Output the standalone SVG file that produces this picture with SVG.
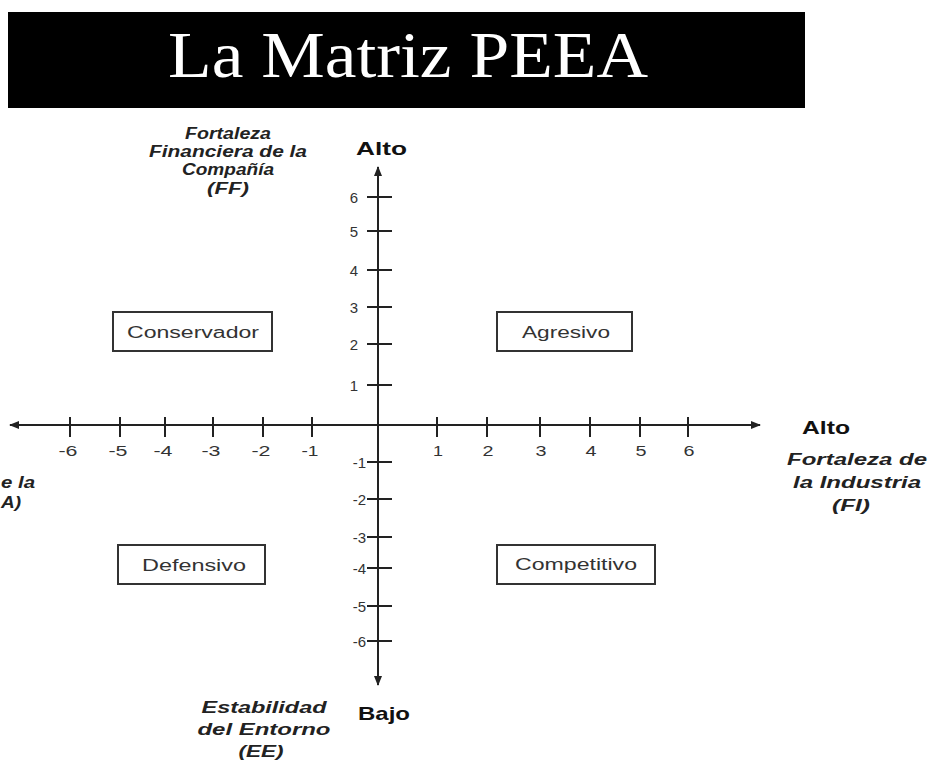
<svg xmlns="http://www.w3.org/2000/svg" width="931" height="760" viewBox="0 0 931 760">
<style>
.ax{stroke:#222;stroke-width:2;fill:none}
.tk{stroke:#222;stroke-width:2}
.num{font-family:"Liberation Sans",Arial,sans-serif;font-size:15px;fill:#333}
.lbl{font-family:"Liberation Sans",Arial,sans-serif;font-size:16px;font-weight:bold;font-style:italic;fill:#222;text-anchor:middle}
.hd{font-family:"Liberation Sans",Arial,sans-serif;font-size:19px;font-weight:bold;fill:#111}
.box{fill:#fff;stroke:#333;stroke-width:2}
.bt{font-family:"Liberation Sans",Arial,sans-serif;font-size:16px;fill:#333;text-anchor:middle}
</style>
<defs>
<marker id="ah" viewBox="0 0 10 10" refX="9" refY="5" markerWidth="5" markerHeight="5" orient="auto-start-reverse">
<path d="M0,1 L10,5 L0,9 z" fill="#222"/>
</marker>
</defs>
<rect width="931" height="760" fill="#fff"/>
<g id="title">
<rect x="8" y="12" width="797" height="96" fill="#000"/>
<text x="408" y="77" font-family="Liberation Serif,'Times New Roman',serif" font-size="66" fill="#fff" text-anchor="middle" textLength="480" lengthAdjust="spacingAndGlyphs">La Matriz PEEA</text>
</g>
<g id="connectors">
<line class="ax" x1="10" y1="425" x2="760" y2="425" marker-start="url(#ah)" marker-end="url(#ah)"/>
<line class="ax" x1="378" y1="167" x2="378" y2="685" marker-start="url(#ah)" marker-end="url(#ah)"/>
<g class="tk">
<line x1="70" y1="417" x2="70" y2="437"/>
<line x1="120" y1="417" x2="120" y2="437"/>
<line x1="165" y1="417" x2="165" y2="437"/>
<line x1="213" y1="417" x2="213" y2="437"/>
<line x1="263" y1="417" x2="263" y2="437"/>
<line x1="312" y1="417" x2="312" y2="437"/>
<line x1="437" y1="417" x2="437" y2="437"/>
<line x1="487" y1="417" x2="487" y2="437"/>
<line x1="540" y1="417" x2="540" y2="437"/>
<line x1="590" y1="417" x2="590" y2="437"/>
<line x1="640" y1="417" x2="640" y2="437"/>
<line x1="688" y1="417" x2="688" y2="437"/>
<line x1="367" y1="197" x2="392" y2="197"/>
<line x1="367" y1="231" x2="392" y2="231"/>
<line x1="367" y1="270" x2="392" y2="270"/>
<line x1="367" y1="307" x2="392" y2="307"/>
<line x1="367" y1="344" x2="392" y2="344"/>
<line x1="367" y1="385" x2="392" y2="385"/>
<line x1="367" y1="462" x2="392" y2="462"/>
<line x1="367" y1="499" x2="392" y2="499"/>
<line x1="367" y1="537" x2="392" y2="537"/>
<line x1="367" y1="568" x2="392" y2="568"/>
<line x1="367" y1="606" x2="392" y2="606"/>
<line x1="367" y1="641" x2="392" y2="641"/>
</g>
</g>
<g id="xlabels" class="num" text-anchor="middle">
<text x="68" y="456" textLength="19" lengthAdjust="spacingAndGlyphs">-6</text>
<text x="118" y="456" textLength="19" lengthAdjust="spacingAndGlyphs">-5</text>
<text x="163" y="456" textLength="19" lengthAdjust="spacingAndGlyphs">-4</text>
<text x="211" y="456" textLength="19" lengthAdjust="spacingAndGlyphs">-3</text>
<text x="261" y="456" textLength="19" lengthAdjust="spacingAndGlyphs">-2</text>
<text x="310" y="456" textLength="17" lengthAdjust="spacingAndGlyphs">-1</text>
<text x="438" y="456" textLength="10" lengthAdjust="spacingAndGlyphs">1</text>
<text x="488" y="456" textLength="11" lengthAdjust="spacingAndGlyphs">2</text>
<text x="541" y="456" textLength="11" lengthAdjust="spacingAndGlyphs">3</text>
<text x="591" y="456" textLength="11" lengthAdjust="spacingAndGlyphs">4</text>
<text x="641" y="456" textLength="11" lengthAdjust="spacingAndGlyphs">5</text>
<text x="689" y="456" textLength="11" lengthAdjust="spacingAndGlyphs">6</text>
</g>
<g id="ylabels" class="num" text-anchor="end">
<text x="358" y="203">6</text>
<text x="358" y="237">5</text>
<text x="358" y="276">4</text>
<text x="358" y="313">3</text>
<text x="358" y="350">2</text>
<text x="358" y="391">1</text>
<text x="366" y="468">-1</text>
<text x="366" y="505">-2</text>
<text x="366" y="543">-3</text>
<text x="366" y="574">-4</text>
<text x="366" y="612">-5</text>
<text x="366" y="647">-6</text>
</g>
<g id="alto-top"><text class="hd" x="356" y="155" textLength="51" lengthAdjust="spacingAndGlyphs">Alto</text></g>
<g id="alto-right"><text class="hd" x="802" y="434" textLength="48" lengthAdjust="spacingAndGlyphs">Alto</text></g>
<g id="bajo"><text class="hd" x="358" y="720" textLength="52" lengthAdjust="spacingAndGlyphs">Bajo</text></g>
<g id="ff-label">
<text class="lbl" x="228" y="139" textLength="86" lengthAdjust="spacingAndGlyphs">Fortaleza</text>
<text class="lbl" x="228" y="157" textLength="158" lengthAdjust="spacingAndGlyphs">Financiera de la</text>
<text class="lbl" x="228" y="175" textLength="92" lengthAdjust="spacingAndGlyphs">Compañía</text>
<text class="lbl" x="228" y="194" textLength="42" lengthAdjust="spacingAndGlyphs">(FF)</text>
</g>
<g id="fi-label">
<text class="lbl" x="857" y="465" textLength="140" lengthAdjust="spacingAndGlyphs">Fortaleza de</text>
<text class="lbl" x="857" y="488" textLength="128" lengthAdjust="spacingAndGlyphs">la Industria</text>
<text class="lbl" x="851" y="511" textLength="38" lengthAdjust="spacingAndGlyphs">(FI)</text>
</g>
<g id="ee-label">
<text class="lbl" x="264" y="713" textLength="125" lengthAdjust="spacingAndGlyphs">Estabilidad</text>
<text class="lbl" x="264" y="735" textLength="133" lengthAdjust="spacingAndGlyphs">del Entorno</text>
<text class="lbl" x="261" y="757" textLength="45" lengthAdjust="spacingAndGlyphs">(EE)</text>
</g>
<g id="left-label">
<text class="lbl" x="1" y="488" style="text-anchor:start" textLength="34" lengthAdjust="spacingAndGlyphs">e la</text>
<text class="lbl" x="1" y="508" style="text-anchor:start" textLength="20" lengthAdjust="spacingAndGlyphs">A)</text>
</g>
<g id="conservador">
<rect class="box" x="113" y="312" width="159" height="39"/>
<text class="bt" x="193" y="338" textLength="132" lengthAdjust="spacingAndGlyphs">Conservador</text>
</g>
<g id="agresivo">
<rect class="box" x="497" y="312" width="135" height="39"/>
<text class="bt" x="566" y="338" textLength="88" lengthAdjust="spacingAndGlyphs">Agresivo</text>
</g>
<g id="defensivo">
<rect class="box" x="118" y="545" width="147" height="39"/>
<text class="bt" x="194" y="571" textLength="104" lengthAdjust="spacingAndGlyphs">Defensivo</text>
</g>
<g id="competitivo">
<rect class="box" x="497" y="545" width="158" height="39"/>
<text class="bt" x="576" y="570" textLength="122" lengthAdjust="spacingAndGlyphs">Competitivo</text>
</g>
</svg>
